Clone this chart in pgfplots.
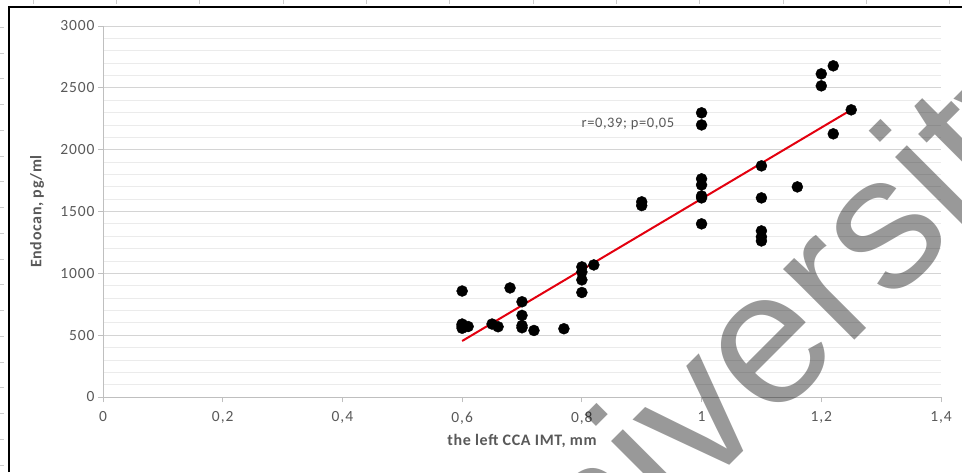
\documentclass[border=0pt]{standalone}
\usepackage{pgfplots}
\pgfplotsset{compat=1.18}
\usepackage{fontspec}
\setmainfont{Carlito}
\newfontfamily\tickfont[LetterSpace=6]{Carlito}
\newfontfamily\labfont[LetterSpace=4]{Carlito}
\newfontfamily\wmfont{Liberation Sans}
\definecolor{txt}{HTML}{595959}
\definecolor{axl}{HTML}{BFBFBF}
\definecolor{majg}{HTML}{D4D4D4}
\definecolor{ming}{HTML}{EBEBEB}
\definecolor{trend}{HTML}{E3000F}
\begin{document}
\begin{tikzpicture}[x=1pt,y=1pt]
\path[use as bounding box, fill=white] (0,0) rectangle (962,-472);
\begin{axis}[
  scale only axis, width=838pt, height=371pt,
  at={(103pt,-397pt)}, anchor=south west,
  xmin=0, xmax=1.4, ymin=0, ymax=3000,
  xtick={0,0.2,0.4,0.6,0.8,1,1.2,1.4},
  xticklabels={0,{0,2},{0,4},{0,6},{0,8},1,{1,2},{1,4}},
  ytick={0,500,1000,1500,2000,2500,3000},
  yticklabels={0,500,1000,1500,2000,2500,3000},
  minor y tick num=4,
  ymajorgrids, yminorgrids,
  major grid style={draw=majg, line width=1pt},
  minor grid style={draw=ming, line width=0.8pt},
  axis lines*=left,
  axis line style={draw=axl, line width=1pt},
  tick style={draw=axl, line width=1pt},
  tick align=outside, major tick length=5pt, minor tick length=0pt,
  ticklabel style={text=txt, font=\tickfont\fontsize{15.5}{17}\selectfont},
  xticklabel style={yshift=-6pt},
  yticklabel style={xshift=0pt},
  xlabel={the left CCA IMT, mm},
  ylabel={Endocan, pg/ml},
  label style={text=txt, font=\labfont\bfseries\fontsize{16}{18}\selectfont},
  xlabel style={at={(axis description cs:0.5,0)}, anchor=center, yshift=-44pt},
  ylabel style={at={(axis description cs:0,0.5)}, anchor=center, yshift=66pt},
  clip=false,
]
\addplot[only marks, mark=*, mark size=5.5pt, black] coordinates {
(0.60,857) (0.60,590) (0.60,582) (0.60,568) (0.60,556) (0.61,570)
(0.65,590) (0.66,568) (0.68,882) (0.70,770) (0.70,660) (0.70,578) (0.70,560)
(0.72,538) (0.77,552)
(0.80,1052) (0.80,1011) (0.80,947) (0.80,845) (0.82,1068)
(0.90,1578) (0.90,1548)
(1.00,2298) (1.00,2200) (1.00,1764) (1.00,1715) (1.00,1626) (1.00,1610) (1.00,1400)
(1.10,1869) (1.10,1610) (1.10,1343) (1.10,1295) (1.10,1262)
(1.16,1699)
(1.20,2613) (1.20,2516) (1.22,2678) (1.22,2128) (1.25,2322)
};
\addplot[trend, line width=2pt] coordinates {(0.6,453) (1.25,2322)};
\node[text=txt, font=\labfont\fontsize{14.5}{16}\selectfont] at (axis cs:0.877,2209) {r=0,39; p=0,05};
\end{axis}
\draw[line width=2pt] (9,-472) -- (9,-7) -- (962,-7);
\foreach \k in {0,...,17} \draw[gray!40] (0,-27-25.75*\k) -- (4,-27-25.75*\k);
\foreach \k in {0,...,11} \draw[gray!40] (33+83.3*\k,0) -- (33+83.3*\k,-4);
\begin{scope}
\clip (0,0) rectangle (962,-472);
\node[rotate=45, anchor=base west, inner sep=0pt, text=black, opacity=0.4, font=\wmfont\fontsize{190}{190}\selectfont] at (502,-693) {University};
\end{scope}
\end{tikzpicture}
\end{document}
